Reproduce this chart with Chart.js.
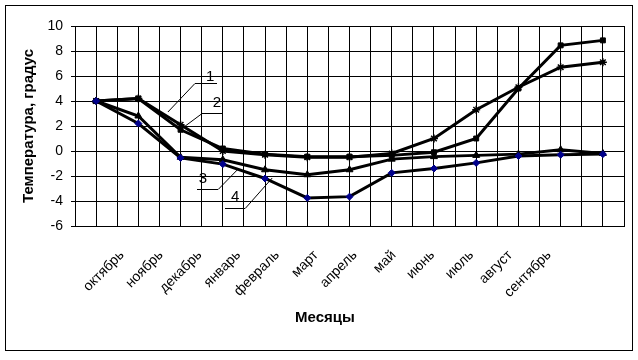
<!DOCTYPE html>
<html><head><meta charset="utf-8">
<script src="https://cdn.jsdelivr.net/npm/chart.js@4/dist/chart.umd.min.js"></script>
<style>html,body{margin:0;padding:0;background:#fff}#wrap{width:638px;height:360px;position:relative}</style>
</head><body><div id="wrap"><canvas id="c" width="638" height="360" style="width:638px;height:360px"></canvas></div>
<script>
// Category (month) tick labels
const months = ['октябрь','ноябрь','декабрь','январь','февраль','март','апрель','май','июнь','июль','август','сентябрь'];
const monthTicks = [0,1,2,3,4,5,6,7,8,9,10,11];
// Data point positions along the plot (13 points)
const positions = [0,1,2,3,4,5,6,7,8,9,10,11,12];
// Series values (temperature, degrees)
const series1 = [4.0, 4.2, 2.1, 0.0, -0.3, -0.5, -0.5, -0.2, 1.0, 3.3, 5.1, 6.7, 7.1];     // asterisks
const series2 = [4.0, 4.2, 1.7, 0.2, -0.25, -0.45, -0.45, -0.35, -0.1, 1.0, 5.0, 8.45, 8.85]; // squares
const series3 = [4.0, 2.8, -0.5, -0.7, -1.5, -1.9, -1.5, -0.65, -0.45, -0.35, -0.25, 0.1, -0.2]; // triangles
const series4 = [4.0, 2.2, -0.55, -1.05, -2.2, -3.75, -3.65, -1.75, -1.4, -0.95, -0.4, -0.3, -0.25]; // blue diamonds
const yTicks = [-6,-4,-2,0,2,4,6,8,10];
// Callout labels (in data coordinates)
const callouts = [
  {text:'1', tx:2.70, ty:5.92, u1:2.34, u2:2.86, uy:5.44, sx:2.34, sy:5.44, ex:1.70, ey:3.12},
  {text:'2', tx:2.86, ty:3.84, u1:2.51, u2:3.00, uy:3.04, sx:2.51, sy:3.04, ex:2.08, ey:1.92},
  {text:'3', tx:2.53, ty:-2.24, u1:2.39, u2:2.89, uy:-3.04, sx:2.89, sy:-3.04, ex:3.34, ey:-1.52},
  {text:'4', tx:3.29, ty:-3.68, u1:3.05, u2:3.53, uy:-4.56, sx:3.53, sy:-4.56, ex:4.17, ey:-2.16}
];

const FONT = "'Liberation Sans', Arial, sans-serif";
const pts = arr => arr.map((v,i)=>({x: positions[i], y: v}));

const framePlugin = {
  id:'frame',
  beforeDraw(chart){ const c=chart.ctx; c.save(); c.fillStyle='#fff'; c.fillRect(0,0,chart.width,chart.height); c.restore(); },
  afterDraw(chart){ const c=chart.ctx; c.save(); c.strokeStyle='#000'; c.lineWidth=1; c.strokeRect(5.5,5.5,chart.width-11,chart.height-15); c.restore(); }
};
const calloutPlugin = {
  id:'callouts',
  afterDatasetsDraw(chart){
    const c=chart.ctx, X=chart.scales.x, Y=chart.scales.y;
    c.save(); c.strokeStyle='#000'; c.lineWidth=1; c.fillStyle='#000';
    c.font = "15px "+FONT; c.textAlign='center'; c.textBaseline='middle';
    callouts.forEach(o=>{
      c.beginPath();
      c.moveTo(Math.round(X.getPixelForValue(o.u1)), Math.round(Y.getPixelForValue(o.uy))+0.5);
      c.lineTo(Math.round(X.getPixelForValue(o.u2)), Math.round(Y.getPixelForValue(o.uy))+0.5);
      c.moveTo(X.getPixelForValue(o.sx), Y.getPixelForValue(o.sy)+0.5);
      c.lineTo(X.getPixelForValue(o.ex), Y.getPixelForValue(o.ey));
      c.stroke();
      c.fillText(o.text, X.getPixelForValue(o.tx), Y.getPixelForValue(o.ty));
    });
    c.restore();
  }
};

const common = {borderColor:'#000', borderWidth:3, tension:0, pointBorderColor:'#000', pointBackgroundColor:'#000'};
new Chart(document.getElementById('c'), {
  type:'line',
  data:{ datasets:[
    {...common, label:'4', data:pts(series4), pointStyle:'rectRot', pointRadius:3.5, pointBackgroundColor:'#00008b', pointBorderColor:'#00008b', pointBorderWidth:1},
    {...common, label:'3', data:pts(series3), pointStyle:'triangle', pointRadius:4, pointBorderWidth:1},
    {...common, label:'1', data:pts(series1), pointStyle:'star', pointRadius:4, pointBorderWidth:1.5},
    {...common, label:'2', data:pts(series2), pointStyle:'rect', pointRadius:3.5, pointBorderWidth:1}
  ]},
  options:{
    responsive:false, maintainAspectRatio:false, animation:false, devicePixelRatio:1,
    layout:{padding:{left:26, right:14, top:26, bottom:33}},
    plugins:{
      legend:{display:false}, tooltip:{enabled:false},
      title:{display:true, text:'Месяцы', position:'bottom', color:'#000', padding:0,
        font:{family:FONT, size:15, weight:'bold'}}
    },
    scales:{
      x:{type:'linear', position:'bottom', min:-0.5, max:12.5,
        afterBuildTicks(s){ const t=[]; for(let v=-0.5; v<=12.5001; v+=0.5) t.push({value:v}); s.ticks=t; },
        afterFit(s){ s.height=0; },
        ticks:{display:false}, grid:{color:'#000', lineWidth:1, drawTicks:false}, border:{color:'#000'}},
      x2:{type:'linear', position:'bottom', min:-1.211, max:12.932,
        afterBuildTicks(s){ s.ticks = monthTicks.map(v=>({value:v})); },
        afterFit(s){ s.height=83; },
        ticks:{autoSkip:false, maxRotation:45, minRotation:45, padding:21, color:'#000',
          font:{family:FONT, size:14}, callback:(v)=>months[v]},
        grid:{display:false, drawTicks:false}, border:{display:false}},
      y:{type:'linear', min:-6, max:10,
        afterBuildTicks(s){ s.ticks = yTicks.map(v=>({value:v})); },
        afterFit(s){ s.width=49; },
        ticks:{color:'#000', padding:8, font:{family:FONT, size:14}},
        grid:{color:'#000', lineWidth:1, tickLength:4, drawTicks:true},
        border:{color:'#000'},
        title:{display:true, text:'Температура, градус', color:'#000', padding:{top:-6,bottom:0},
          font:{family:FONT, size:15, weight:'bold'}}}
    }
  },
  plugins:[framePlugin, calloutPlugin]
});
</script></body></html>
